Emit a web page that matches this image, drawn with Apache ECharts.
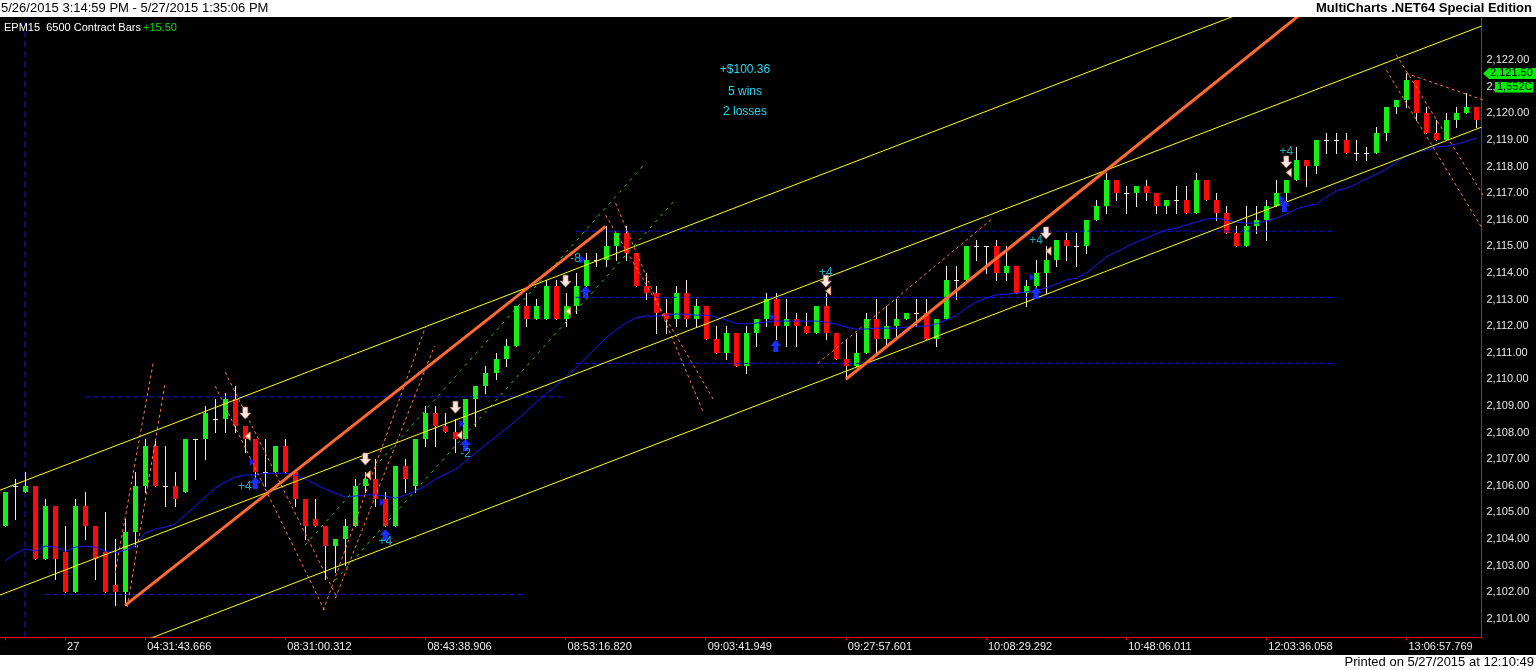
<!DOCTYPE html>
<html>
<head>
<meta charset="utf-8">
<script src="https://cdn.jsdelivr.net/npm/echarts/dist/echarts.min.js"></script>
<style>
html,body{margin:0;padding:0;background:#fff;}
#c{width:1536px;height:670px;}
</style>
</head>
<body>
<div id="c"></div>
<script>
// ---------- DATA ----------
const opens = [
2104.5,2106.0,2105.75,2106.0,2103.25,2105.25,2103.5,2102.0,2105.25,2104.5,
2103.5,2102.25,2102.0,2104.25,2106.0,2107.5,2106.0,2106.0,2105.75,2107.75,
2107.75,2108.5,2108.5,2109.25,2108.25,2107.75,2106.5,2106.5,2107.5,2106.5,
2105.5,2104.75,2104.5,2103.75,2104.0,2104.5,2106.0,2106.25,2105.5,2104.5,
2106.75,2106.0,2107.75,2108.75,2108.25,2108.0,2107.75,2109.25,2109.75,2110.25,
2110.75,2111.25,2112.75,2112.25,2112.25,2113.5,2112.25,2112.75,2113.5,2114.5,
2114.5,2115.0,2115.5,2114.75,2113.5,2113.25,2112.5,2112.25,2113.25,2112.25,
2112.75,2111.5,2111.0,2111.75,2110.5,2111.75,2112.25,2113.0,2112.0,2112.25,
2112.0,2111.75,2112.75,2111.75,2110.75,2110.5,2111.0,2112.25,2111.5,2112.0,
2112.25,2112.5,2112.5,2111.5,2112.25,2113.75,2113.75,2115.0,2115.0,2115.0,
2114.0,2114.25,2113.25,2113.5,2114.0,2114.5,2115.25,2115.0,2115.0,2116.0,
2116.5,2117.5,2117.0,2117.0,2117.25,2117.0,2116.5,2116.75,2116.75,2116.25,
2117.5,2116.75,2116.25,2115.5,2115.0,2115.75,2116.0,2116.5,2117.0,2117.5,
2118.25,2118.0,2119.0,2119.0,2119.0,2118.5,2118.5,2118.5,2119.25,2120.25,
2120.5,2121.25,2120.0,2119.25,2119.0,2119.75,2120.0,2120.25];
const closes = [
2105.75,2106.0,2106.0,2103.25,2105.25,2103.25,2102.0,2105.25,2104.5,2103.25,
2102.0,2102.0,2104.25,2106.0,2107.5,2106.0,2106.0,2105.5,2107.75,2107.75,
2108.75,2108.5,2109.25,2108.25,2107.75,2106.5,2106.5,2107.5,2106.5,2105.5,
2104.5,2104.5,2103.75,2104.0,2104.5,2106.0,2106.25,2105.5,2104.5,2106.75,
2106.25,2107.75,2108.75,2108.25,2108.0,2107.75,2109.25,2109.75,2110.25,2110.75,
2111.25,2112.75,2112.25,2112.75,2113.5,2112.25,2112.75,2113.5,2114.5,2114.5,
2115.0,2115.5,2114.75,2113.5,2113.25,2112.5,2112.25,2113.25,2112.25,2112.75,
2111.5,2111.0,2111.75,2110.5,2111.75,2112.25,2113.0,2112.0,2112.25,2112.0,
2111.75,2112.75,2111.75,2110.75,2110.5,2111.0,2112.25,2111.5,2112.0,2112.25,
2112.5,2112.5,2111.5,2112.25,2113.75,2113.75,2115.0,2115.0,2115.0,2114.0,
2114.25,2113.25,2113.5,2114.0,2114.5,2115.25,2115.0,2115.0,2116.0,2116.5,
2117.5,2117.0,2117.0,2117.25,2117.0,2116.5,2116.75,2116.75,2116.25,2117.5,
2116.75,2116.25,2115.5,2115.0,2115.75,2116.0,2116.5,2117.0,2117.5,2118.25,
2118.0,2119.0,2119.0,2119.0,2118.5,2118.5,2118.5,2119.25,2120.25,2120.5,
2121.25,2120.0,2119.25,2119.0,2119.75,2120.0,2120.25,2119.75];
const highs = [
2105.75,2106.25,2106.5,2106.0,2105.5,2105.25,2104.5,2105.5,2105.75,2104.5,
2105.0,2104.0,2104.75,2106.5,2107.75,2107.75,2107.5,2106.5,2107.75,2107.75,
2109.0,2109.25,2109.5,2109.75,2108.25,2107.75,2107.75,2107.5,2107.75,2106.5,
2105.5,2105.5,2104.5,2104.0,2104.75,2106.25,2106.5,2107.0,2105.75,2106.75,
2107.0,2107.75,2109.0,2109.0,2108.75,2108.5,2109.25,2109.75,2110.5,2111.0,
2111.5,2112.75,2113.25,2113.0,2113.75,2113.75,2113.25,2114.0,2114.75,2114.75,
2115.75,2115.5,2115.75,2114.75,2114.0,2113.5,2113.0,2113.5,2113.75,2113.0,
2112.75,2112.0,2112.0,2111.75,2112.0,2112.25,2113.25,2113.25,2113.0,2112.5,
2112.5,2112.75,2113.25,2111.75,2111.5,2111.75,2112.5,2113.0,2112.75,2113.0,
2112.5,2113.0,2113.0,2112.25,2114.25,2114.25,2115.0,2115.25,2115.0,2115.25,
2115.0,2114.25,2113.75,2114.5,2115.0,2115.25,2115.5,2115.5,2116.0,2116.75,
2117.75,2117.5,2117.25,2117.25,2117.5,2117.0,2116.75,2117.25,2117.25,2117.75,
2117.5,2117.0,2116.5,2115.75,2116.5,2116.5,2116.75,2117.5,2117.5,2118.75,
2118.25,2119.0,2119.25,2119.25,2119.25,2119.0,2118.75,2119.5,2120.25,2120.5,
2121.5,2121.25,2120.25,2119.75,2120.0,2120.25,2120.75,2120.25];
const lows = [
2104.5,2104.75,2105.75,2103.25,2103.25,2102.5,2102.0,2102.0,2104.0,2102.5,
2102.0,2101.5,2101.5,2103.75,2105.75,2106.0,2105.25,2105.25,2105.75,2106.25,
2107.0,2108.0,2108.0,2108.0,2107.25,2106.25,2106.0,2106.5,2106.5,2105.25,
2104.0,2104.5,2102.5,2102.75,2103.0,2104.5,2105.75,2105.25,2104.5,2104.5,
2105.75,2105.75,2107.5,2107.5,2108.0,2107.25,2107.75,2108.25,2109.5,2110.0,
2110.5,2111.25,2112.0,2112.25,2112.25,2112.25,2112.0,2112.5,2113.5,2114.25,
2114.25,2114.5,2114.5,2113.5,2113.0,2111.75,2111.75,2112.0,2112.0,2112.0,
2111.5,2111.0,2110.75,2110.5,2110.25,2111.25,2112.0,2111.5,2111.25,2111.25,
2111.75,2111.75,2111.5,2110.75,2110.0,2110.5,2111.0,2111.0,2111.25,2111.5,
2112.25,2112.0,2111.5,2111.25,2112.25,2113.0,2113.75,2114.5,2114.0,2113.75,
2113.75,2113.25,2112.75,2113.25,2113.25,2114.25,2114.5,2114.25,2114.75,2116.0,
2116.25,2116.75,2116.25,2116.5,2116.75,2116.25,2116.25,2116.25,2116.25,2116.25,
2116.75,2116.0,2115.5,2115.0,2115.0,2115.5,2115.25,2116.5,2116.75,2117.5,
2117.25,2117.75,2118.5,2118.5,2118.5,2118.25,2118.25,2118.5,2119.0,2120.0,
2120.25,2119.75,2119.25,2119.0,2119.0,2119.5,2120.0,2119.5];
const maValues = [
2103.17,2103.43,2103.62,2103.54,2103.73,2103.69,2103.54,2103.69,2103.73,2103.69,
2103.54,2103.47,2103.58,2103.73,2104.22,2104.37,2104.44,2104.56,2104.89,2105.23,
2105.57,2105.91,2106.14,2106.32,2106.40,2106.40,2106.47,2106.47,2106.47,2106.40,
2106.25,2106.06,2105.87,2105.72,2105.57,2105.61,2105.65,2105.65,2105.61,2105.53,
2105.65,2105.80,2105.98,2106.25,2106.44,2106.62,2106.92,2107.23,2107.53,2107.83,
2108.13,2108.43,2108.77,2109.11,2109.44,2109.74,2110.08,2110.42,2110.80,2111.17,
2111.55,2111.85,2112.11,2112.30,2112.38,2112.38,2112.41,2112.45,2112.45,2112.41,
2112.41,2112.34,2112.23,2112.11,2112.08,2112.11,2112.15,2112.19,2112.19,2112.19,
2112.19,2112.19,2112.15,2112.08,2111.96,2111.89,2111.89,2111.92,2111.92,2111.92,
2111.96,2112.00,2112.00,2112.08,2112.23,2112.38,2112.68,2112.90,2113.05,2113.17,
2113.20,2113.24,2113.28,2113.35,2113.43,2113.58,2113.73,2113.80,2113.99,2114.29,
2114.59,2114.78,2114.97,2115.16,2115.31,2115.46,2115.61,2115.68,2115.80,2115.91,
2116.02,2116.06,2115.98,2115.91,2115.87,2115.87,2115.95,2116.06,2116.21,2116.40,
2116.51,2116.59,2116.85,2117.08,2117.19,2117.34,2117.53,2117.71,2117.90,2118.17,
2118.39,2118.54,2118.62,2118.73,2118.77,2118.84,2118.95,2119.07];

const tickLabels = [[6,'27'],[14,'04:31:43.666'],[28,'08:31:00.312'],[42,'08:43:38.906'],
  [56,'08:53:16.820'],[70,'09:03:41.949'],[84,'09:27:57.601'],[98,'10:08:29.292'],
  [112,'10:48:06.011'],[126,'12:03:36.058'],[140,'13:06:57.769']];
const tickIndices = [0,6,14,28,42,56,70,84,98,112,126,140];

// trend lines: [x1, price1, x2, price2] in bar-index / price units
const yellowLines = [[-0.5,2105.83,147.5,2127.23],[-0.5,2101.89,147.5,2123.28],[-0.5,2098.09,147.5,2119.48]];
const orangeThick = [[12,2101.5,60,2115.75],[84,2110.0,130,2123.9]];
const orangeDashed = [
  [11,2102.71,14.8,2110.61],[12.2,2101.44,16,2109.86],
  [21,2109.74,32,2101.25],[22,2110.27,33.2,2101.77],
  [31.8,2101.32,42,2111.96],[33,2101.77,42.9,2111.25],
  [61,2116.62,69.8,2108.73],[60,2116.17,70.8,2109.22],
  [81.2,2110.6,98.5,2116.0],
  [139,2122.19,147.67,2116.92],[138,2121.62,147.67,2115.61],[140,2121.5,147.67,2120.5]];
const greenDashed = [[30,2103.77,63.8,2118.05],[33,2102.45,67,2116.77]];
// horizontal levels: [x1, price, x2]
const blueLevels = [[8,2109.34,55.7],[4,2101.91,51.7],[57,2115.57,132.8],[57,2113.08,132.8],[57,2110.60,132.8]];
const sessionBreak = 2;

// strategy marks
const sellArrows = [[24,2108.73],[36,2107.0],[45,2108.95],[56,2113.69],[82,2113.69],[104,2115.5],[128,2118.17]];
const buyArrows = [[25,2106.1],[38,2104.14],[46,2107.53],[58,2113.28],[77,2111.25],[103,2113.24],[127.8,2116.51]];
const entryMarks = [[24.7,2106.89],[37.7,2105.38],[45.65,2108.33],[57.7,2114.5],[76.7,2112.34],[102.6,2113.84],[127.6,2116.77]];
const exitMarks = [[24.25,2107.86],[36.25,2106.4],[45.4,2107.9],[56.25,2112.56],[82.25,2113.32],[104.25,2114.82],[128.25,2117.77]];
const tradeLabels = [[23.95,2105.95,'+4'],[38,2103.9,'+4'],[46,2107.2,'-2'],[57.0,2114.52,'-8'],[82,2113.99,'+4'],[103,2115.2,'+4'],[128,2118.54,'+4']];

const statsLines = ['+$100.36','5 wins','2 losses'];
const lastPrice = 2121.5;
const lastPriceText = '2,121.50';
const volumeText = '1,552C';
const yMin = 2100.3, yMax = 2123.62;

// ---------- CHART ----------
const FONT = '"Liberation Sans", Arial, sans-serif';
const categories = opens.map(() => '');
tickLabels.forEach(t => { categories[t[0]] = t[1]; });

function fmtPrice(v) {
  if (Math.abs(v - Math.round(v)) > 1e-6) return '';
  if (v < 2100.5 || v > 2122.5) return '';
  const s = v.toFixed(2).split('.');
  return s[0].replace(/\B(?=(\d{3})+(?!\d))/g, ',') + '.' + s[1];
}

function renderCandle(params, api) {
  const i = api.value(0), o = api.value(1), c = api.value(2), l = api.value(3), h = api.value(4);
  const pO = api.coord([i, o]), pC = api.coord([i, c]), pL = api.coord([i, l]), pH = api.coord([i, h]);
  const cx = Math.round(pO[0]);
  const kids = [{type:'line', shape:{x1:cx+0.5, y1:Math.round(pH[1]), x2:cx+0.5, y2:Math.round(pL[1])+1},
    style:{stroke:'#f2e6e6', lineWidth:1}}];
  if (o === c) {
    const y = Math.round(pO[1]) + 0.5;
    kids.push({type:'line', shape:{x1:cx-2, y1:y, x2:cx+3, y2:y}, style:{stroke:'#f2e6e6', lineWidth:1}});
  } else {
    const top = Math.round(Math.min(pO[1], pC[1]));
    const bot = Math.round(Math.max(pO[1], pC[1]));
    kids.push({type:'rect', shape:{x:cx-2, y:top, width:5, height:Math.max(1, bot-top)},
      style:{fill: c > o ? '#14f014' : '#ff0a0a'}});
  }
  return {type:'group', children:kids};
}

function seg(s, style, z) {
  return {type:'line', xAxisIndex:1, yAxisIndex:0, data:[[s[0],s[1]],[s[2],s[3]]],
    symbol:'none', lineStyle:style, silent:true, z:z, clip:true, animation:false};
}

const series = [];
series.push({type:'line', xAxisIndex:1, data:[[sessionBreak,yMin],[sessionBreak,yMax]], symbol:'none',
  lineStyle:{color:'#1c1cd8', width:1, type:[6,4]}, silent:true, z:1});
series.push({type:'custom', xAxisIndex:1, yAxisIndex:0, renderItem:renderCandle, clip:true, z:2,
  encode:{x:0, y:[1,2,3,4]}, silent:true,
  data: opens.map((o,i) => [i, o, closes[i], lows[i], highs[i]])});
blueLevels.forEach(b => series.push(seg([b[0],b[1],b[2],b[1]], {color:'#1010ff', width:1, type:[5,3]}, 3)));
series.push({type:'line', xAxisIndex:1, data:maValues.map((v,i)=>[i,v]), symbol:'none',
  lineStyle:{color:'#1818ff', width:1}, silent:true, z:4});
greenDashed.forEach(s => series.push(seg(s, {color:'#22d022', width:1, type:[3,5]}, 4)));
orangeDashed.forEach(s => series.push(seg(s, {color:'#ff7a38', width:1, type:[3,3]}, 4)));
yellowLines.forEach(s => series.push(seg(s, {color:'#ffff00', width:1}, 5)));
orangeThick.forEach(s => series.push(seg(s, {color:'#ff6a30', width:3}, 6)));

series.push({type:'scatter', xAxisIndex:1, data:sellArrows, silent:true, z:10,
  symbol:'path://M3,0 L8,0 L8,6 L11,6 L5.5,12 L0,6 L3,6 Z', symbolSize:[11,12],
  itemStyle:{color:'#ffe6e0', borderColor:'#c08070', borderWidth:0.6, opacity:1}});
series.push({type:'scatter', xAxisIndex:1, data:buyArrows, silent:true, z:10,
  symbol:'path://M5.5,0 L11,6 L8,6 L8,12 L3,12 L3,6 L0,6 Z', symbolSize:[11,12],
  itemStyle:{color:'#1530ff', opacity:1}});
series.push({type:'scatter', xAxisIndex:1, data:entryMarks, silent:true, z:10,
  symbol:'path://M0,0 L6,4 L0,8 Z', symbolSize:[5,8], itemStyle:{color:'#1a1aff', opacity:1}});
series.push({type:'scatter', xAxisIndex:1, data:exitMarks, silent:true, z:10,
  symbol:'path://M6,0 L0,4 L6,8 Z', symbolSize:[5,8],
  itemStyle:{color:'#fff4ee', borderColor:'#ff8844', borderWidth:0.8, opacity:1}});
series.push({type:'scatter', xAxisIndex:1, data:tradeLabels, silent:true, z:11,
  symbol:'circle', symbolSize:1, itemStyle:{color:'rgba(0,0,0,0)'},
  label:{show:true, position:'inside', formatter:p => p.value[2], color:'#22d8f0',
    fontSize:12, fontFamily:FONT}});

const option = {
  backgroundColor:'#000',
  animation:false,
  grid:{left:0, right:54.5, top:17, bottom:32.7, containLabel:false},
  xAxis:[
    {type:'category', data:categories, boundaryGap:true, position:'bottom',
     axisLine:{show:true, onZero:false, lineStyle:{color:'#ff0000', width:1}},
     axisTick:{show:true, alignWithLabel:true, length:3, interval:(idx)=>tickIndices.indexOf(idx)>=0,
       lineStyle:{color:'#ff0000'}},
     axisLabel:{show:true, interval:(idx,val)=>val!=='', align:'left', margin:4, color:'#ececec',
       fontSize:11, fontFamily:FONT, padding:[0,0,0,2]},
     splitLine:{show:false}},
    {type:'value', min:-0.5, max:147.5, show:false, splitLine:{show:false},
     axisLine:{show:false, onZero:false}}
  ],
  yAxis:[{type:'value', position:'right', min:yMin, max:yMax, minInterval:1, maxInterval:1,
    axisLine:{show:true, onZero:false, lineStyle:{color:'#ff0000', width:1}},
    axisTick:{show:false}, splitLine:{show:false},
    axisLabel:{show:true, formatter:fmtPrice, color:'#e6e6e6', fontSize:11, fontFamily:FONT, margin:5, align:'left'}}],
  series: series
};

const chart = echarts.init(document.getElementById('c'));
chart.setOption(option);

const yLast = chart.convertToPixel({yAxisIndex:0}, lastPrice);
const graphics = [
  {type:'rect', z:100, shape:{x:0, y:0, width:1536, height:17}, style:{fill:'#ffffff'}},
  {type:'rect', z:100, shape:{x:0, y:655, width:1536, height:15}, style:{fill:'#ffffff'}},
  {type:'text', z:101, x:1, y:8.5, style:{text:'5/26/2015 3:14:59 PM - 5/27/2015 1:35:06 PM', fill:'#000',
    font:'13px ' + FONT, align:'left', verticalAlign:'middle'}},
  {type:'text', z:101, x:1532, y:8.5, style:{text:'MultiCharts .NET64 Special Edition', fill:'#000',
    font:'bold 13px ' + FONT, align:'right', verticalAlign:'middle'}},
  {type:'text', z:101, x:1534, y:662.5, style:{text:'Printed on 5/27/2015 at 12:10:49', fill:'#000',
    font:'13px ' + FONT, align:'right', verticalAlign:'middle'}},
  {type:'text', z:101, x:4, y:27.5, style:{text:'EPM15  6500 Contract Bars', fill:'#ffffff',
    font:'11px ' + FONT, align:'left', verticalAlign:'middle'}},
  {type:'text', z:101, x:143, y:27.5, style:{text:'+15.50', fill:'#00e000',
    font:'11px ' + FONT, align:'left', verticalAlign:'middle'}},
  {type:'polygon', z:101, shape:{points:[[1483,yLast],[1489,yLast-5.5],[1536,yLast-5.5],[1536,yLast+5.5],[1489,yLast+5.5]]},
    style:{fill:'#00ee00'}},
  {type:'text', z:102, x:1490, y:yLast, style:{text:lastPriceText, fill:'#000', font:'11px ' + FONT,
    align:'left', verticalAlign:'middle'}},
  {type:'rect', z:101, shape:{x:1495, y:yLast+8.5, width:38, height:10.5}, style:{fill:'#00ee00'}},
  {type:'text', z:102, x:1497, y:yLast+13.8, style:{text:volumeText, fill:'#000', font:'11px ' + FONT,
    align:'left', verticalAlign:'middle'}}
];
statsLines.forEach((t, k) => {
  graphics.push({type:'text', z:101, x:745, y:[69.7,91.3,111.3][k], style:{text:t, fill:'#22d8f0',
    font:'12px ' + FONT, align:'center', verticalAlign:'middle'}});
});
chart.setOption({graphic:graphics});
</script>
</body>
</html>
